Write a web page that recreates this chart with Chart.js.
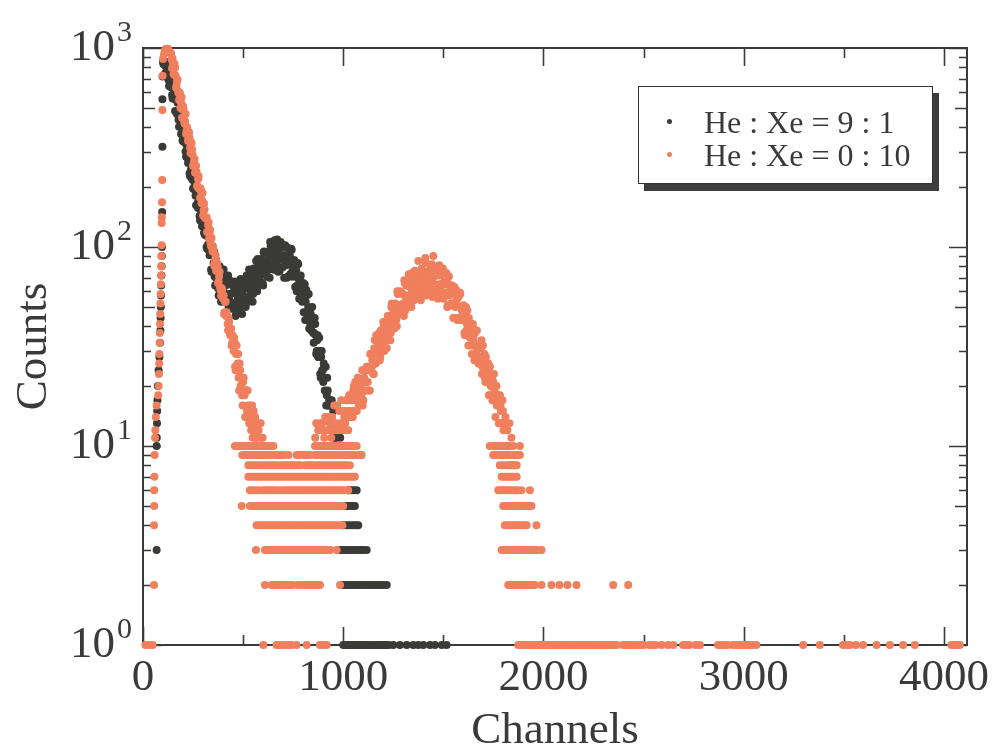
<!DOCTYPE html>
<html>
<head>
<meta charset="utf-8">
<script src="https://cdn.jsdelivr.net/npm/chart.js@4.4.1/dist/chart.umd.min.js"></script>
<style>
  body { margin: 0; background: #fff; }
  #wrap { position: relative; width: 998px; height: 751px; }
  #legend {
    position: absolute; left: 638px; top: 86px; width: 295px; height: 98px;
    box-sizing: border-box; border: 1.5px solid #333; background: #fff;
    box-shadow: 6px 7px 0 #3d3d3d; padding-top: 19px;
    font: 32px "Liberation Serif", serif; color: #3a3a3a;
  }
  #legend .row { position: relative; height: 33px; line-height: 33px; padding-left: 65px; white-space: nowrap; }
  #legend .dot { position: absolute; left: 28px; top: 13px; width: 5px; height: 5px; border-radius: 50%; }
</style>
</head>
<body>
<div id="wrap">
  <canvas id="chart" width="998" height="751"></canvas>
  <div id="legend"></div>
</div>
<script>
const seriesNames = ['He : Xe = 9 : 1', 'He : Xe = 0 : 10'];
const seriesColors = ['rgb(58,58,54)', 'rgb(239,127,93)'];
const channelTicks = [0, 1000, 2000, 3000, 4000];
const countDecades = [0, 1, 2, 3];
const bandStep = 5;

// He:Xe = 9:1 -- rising edge (channel, counts)
const mixEdgeChannels = [68, 68, 69, 70, 71, 72, 74, 78, 82, 85, 87, 88, 89, 90, 91, 92, 93, 94, 95, 96, 97, 97, 98];
const mixEdgeCounts = [3, 10, 11, 13, 15, 17, 20, 24, 28, 33, 38, 44, 50, 57, 64, 72, 80, 90, 100, 150, 319, 552, 720];
// He:Xe = 9:1 -- counts every 5 channels from channel 100
const mixBandStart = 100;
const mixBandCounts = [
  850, 860, 744, 803, 730, 803, 644, 700, 635, 580, 628, 570, 482, 550, 466, 466, 402, 435, 370, 413,
  346, 337, 342, 284, 299, 264, 286, 227, 246, 219, 197, 213, 193, 162, 184, 157, 158, 136, 148, 127,
  142, 118, 115, 118, 98, 103,
  96, 106, 77, 91, 75, 95, 64, 81, 70, 62, 78, 70, 53, 76, 60, 66, 53, 68, 54, 72, 55,
  58, 66, 49, 59, 52, 67, 46, 61, 55, 50, 64, 59, 46, 68, 56, 62, 52, 68, 56, 77, 61,
  65, 76, 58, 72, 64, 85, 60, 80, 72, 67, 87, 81, 64, 95, 77, 86, 71, 94, 77, 106, 83,
  88, 102, 77, 95, 83, 109, 75, 99, 87, 79, 101, 91, 70, 102, 81, 88, 71, 92, 73, 98, 75,
  77, 86, 63, 76, 64, 82, 55, 70, 60, 53, 66, 58, 43, 61, 47, 50, 39, 49, 38, 50, 37,
  37, 41, 29, 34, 28, 35, 23, 28, 24, 21, 25, 22, 16, 22, 16, 17, 13, 16, 12, 15, 11,
  11, 11, 10, 12, 10, 11
];
// He:Xe = 9:1 -- the in-between channels (every 5 from 102.5)
const mixBandBStart = 102.5;
const mixBandBCounts = [
  829, 858, 736, 850, 764, 690, 746, 647, 661, 558, 637, 556, 562, 474, 530, 436, 442,
  402, 406, 342, 387, 339, 302, 325, 280, 282, 235, 267, 233, 233, 196, 221, 181, 183,
  166, 168, 143, 160, 141, 127, 136, 117, 118, 100, 113, 99,
  91, 100, 75, 101, 83, 71, 87, 69, 76, 57, 80, 66, 73, 57, 77, 57, 64,
  58, 65, 50, 68, 58, 51, 64, 52, 59, 45, 65, 55, 62, 49, 69, 52, 60,
  56, 64, 50, 72, 62, 55, 71, 60, 68, 53, 78, 67, 76, 62, 87, 67, 77,
  72, 83, 66, 94, 82, 73, 94, 78, 89, 70, 101, 86, 97, 77, 108, 82, 93,
  86, 98, 76, 106, 91, 79, 100, 82, 91, 70, 99, 82, 91, 71, 97, 71, 79,
  71, 79, 60, 83, 69, 59, 72, 58, 63, 47, 65, 53, 57, 44, 58, 42, 46,
  40, 44, 33, 44, 36, 30, 36, 28, 30, 22, 30, 24, 26, 19, 25, 18, 19,
  16, 17, 13, 17, 13
];
// He:Xe = 9:1 -- channels holding 1, 2, 3 ... counts
const mixLowLevels = [
  [1000, 1012, 1024, 1036, 1048, 1060, 1072, 1084, 1096, 1108, 1120, 1132, 1144, 1156, 1168, 1180, 1192, 1204, 1216, 1228, 1250, 1283, 1317, 1350, 1375, 1400, 1433, 1458, 1492, 1516],
  [992, 1005, 1018, 1031, 1044, 1057, 1070, 1083, 1096, 1109, 1122, 1135, 1148, 1161, 1174, 1187, 1200, 1217],
  [984, 997, 1010, 1023, 1036, 1049, 1062, 1075, 1088, 1101, 1117],
  [1000, 1013, 1026, 1039, 1052, 1065, 1075],
  [1000, 1012, 1024, 1036, 1048, 1058],
  [1025, 1038, 1052, 1067]
];

// He:Xe = 0:10 -- rising edge (channel, counts)
const xeEdgeChannels = [55, 55, 56, 56, 57, 58, 60, 62, 64, 68, 76, 78, 80, 81, 82, 83, 84, 85, 86, 87, 88, 89, 90, 91, 92, 93, 93, 94, 95, 96, 97, 98, 100];
const xeEdgeCounts = [2, 4, 5, 6, 7, 9, 11, 12, 14, 16, 18, 20, 23, 26, 29, 33, 37, 41, 46, 52, 58, 65, 72, 80, 90, 102, 132, 141, 168, 217, 488, 726, 880];
// He:Xe = 0:10 -- counts every 5 channels, falling tail from channel 105
const xeBand1Start = 105;
const xeBand1Counts = [
  930, 975, 990, 985, 990, 965,
  947, 940, 791, 830, 733, 796, 631, 679, 607, 548, 589, 532, 446, 510, 433, 430, 370, 400, 341, 377,
  315, 306, 310, 255, 268, 236, 256, 203, 219, 196, 177, 190, 172, 144, 165, 140, 139, 119, 129, 110,
  122, 101, 99, 100, 82, 86, 76, 83, 66, 71, 63, 57, 61, 55, 46, 53, 45, 45, 38, 42, 36, 39, 33,
  32, 35, 25, 29, 24, 29, 19, 24, 20, 18, 21, 19, 14, 19, 15, 16, 13, 16, 12, 16,
  12, 12, 14, 10, 12, 10, 13, 9, 11, 10, 9
];
// He:Xe = 0:10 -- in-between channels of the falling tail (every 5 from 142.5)
const xeBand1BStart = 142.5;
const xeBand1BCounts = [
  876, 885, 742, 833, 728, 648, 692, 594, 598, 500, 566, 491, 494, 417, 466, 382, 385,
  350, 354, 297, 334, 291, 259, 277, 237, 239, 200, 227, 197, 197, 166, 187, 153, 154,
  140, 141, 119, 133, 117, 104, 111, 95, 96, 80, 91, 79, 79, 67, 75, 61, 62,
  56, 57, 47, 53, 47, 41, 44, 38, 38, 32, 36,
  30, 33, 24, 32, 26, 22, 26, 20, 22, 16, 22, 18, 19, 14, 19, 14, 15,
  13, 15, 11, 15, 13, 11, 13, 11, 12, 9, 13, 10, 11
];
// He:Xe = 0:10 -- counts every 5 channels, photopeak from channel 860
const xeBand2Start = 860;
const xeBand2Counts = [
  11, 13, 10, 12, 10, 13, 10, 13, 12, 11, 14, 12, 10, 14, 12, 13, 11, 14, 12, 16, 12,
  13, 16, 12, 15, 13, 17, 12, 15, 14, 13, 17, 15, 12, 18, 15, 17, 14, 19, 15, 21, 17,
  18, 21, 16, 20, 18, 24, 17, 22, 21, 19, 25, 24, 19, 29, 24, 27, 23, 31, 26, 36, 29,
  31, 37, 28, 35, 31, 42, 30, 40, 37, 34, 45, 42, 34, 50, 41, 47, 39, 52, 43, 60, 48,
  51, 60, 46, 58, 52, 68, 48, 64, 57, 53, 69, 63, 50, 74, 60, 67, 55, 72, 59, 85, 63,
  67, 77, 58, 72, 63, 88, 57, 75, 67, 61, 78, 72, 56, 90, 65, 72, 58, 75, 60, 81, 63,
  65, 74, 55, 67, 57, 74, 50, 65, 57, 51, 64, 58, 44, 63, 50, 54, 43, 56, 44, 58, 44,
  45, 51, 37, 45, 38, 48, 32, 41, 36, 32, 40, 35, 27, 38, 30, 32, 26, 32, 26, 34, 25,
  26, 29, 21, 25, 21, 26, 18, 23, 20, 17, 21, 19, 14, 20, 16, 17, 13, 16, 13, 17, 12,
  13, 14, 10, 12, 10, 13, 8, 11, 9, 8
];
// He:Xe = 0:10 -- in-between channels of the photopeak (every 5 from 1002.5)
const xeBand2BStart = 1002.5;
const xeBand2BCounts = [
  13, 15, 12, 17, 15, 14, 18, 15, 17, 14, 20, 17, 19, 15, 22, 16, 19,
  18, 21, 16, 24, 21, 19, 25, 21, 24, 19, 29, 25, 29, 23, 34, 26, 30,
  29, 33, 27, 38, 34, 30, 40, 33, 39, 31, 45, 39, 45, 37, 52, 40, 46,
  44, 51, 40, 58, 51, 46, 59, 50, 58, 45, 66, 56, 64, 52, 73, 55, 63,
  59, 68, 54, 76, 65, 58, 74, 61, 70, 54, 78, 66, 75, 59, 83, 62, 71,
  66, 75, 58, 82, 70, 62, 78, 64, 72, 55, 78, 65, 72, 57, 78, 58, 65,
  59, 67, 51, 71, 60, 52, 64, 52, 58, 44, 61, 51, 56, 44, 59, 43, 48,
  43, 48, 36, 50, 41, 36, 44, 35, 39, 29, 41, 33, 37, 28, 38, 28, 31,
  28, 31, 23, 32, 26, 22, 28, 22, 24, 18, 25, 20, 22, 17, 23, 17, 18,
  16, 18, 13, 18, 15, 13, 15
];
// He:Xe = 0:10 -- channels holding 1, 2, 3 ... 10 counts
const xeLowLevels = [
  [12, 30, 48, 601, 667, 681, 694, 712, 728, 742, 767, 817, 884, 900, 917,
   1874, 1886, 1898, 1910, 1922, 1934, 1946, 1958, 1970, 1982, 1994, 2006, 2018, 2030, 2042, 2054, 2066, 2078,
   2090, 2102, 2114, 2126, 2138, 2150, 2162, 2174, 2186, 2198, 2210, 2222, 2234, 2246, 2258, 2270, 2282, 2294,
   2306, 2318, 2330, 2342, 2354, 2365, 2398, 2412, 2426, 2440, 2455, 2470, 2486, 2500, 2530, 2545, 2560, 2590,
   2622, 2648, 2697, 2712, 2728, 2760, 2781, 2872, 2888, 2904, 2920, 2947, 2964, 2980, 2997, 3012, 3028, 3045, 3063,
   3297, 3380, 3496, 3512, 3530, 3560, 3596, 3663, 3730, 3796, 3854, 4037, 4050, 4065, 4079],
  [609, 642, 655, 668, 681, 694, 707, 720, 733, 746, 772, 785, 798, 811, 824, 837, 850, 863, 876, 884, 984,
   1824, 1836, 1848, 1860, 1872, 1884, 1896, 1908, 1920, 1932, 1944, 1956, 1990, 2040, 2080, 2120, 2165, 2348, 2423],
  [564, 609, 622, 635, 648, 661, 674, 687, 700, 713, 726, 739, 752, 765, 778, 791, 804, 817, 830, 843, 856, 869,
   882, 895, 908, 921, 934, 967, 1791, 1803, 1815, 1827, 1839, 1851, 1863, 1875, 1887, 1899, 1911, 1923, 1935,
   1947, 1959, 1971, 1990],
  [567, 580, 593, 606, 619, 632, 645, 658, 671, 684, 697, 710, 723, 736, 749, 762, 775, 788, 801, 814, 827, 840,
   853, 866, 879, 892, 905, 918, 931, 944, 957, 970, 983, 996, 1807, 1819, 1831, 1843, 1855, 1867, 1879, 1891,
   1903, 1916, 1965],
  [493, 534, 547, 560, 573, 586, 599, 612, 625, 638, 651, 664, 677, 690, 703, 716, 729, 742, 755, 768, 781, 794,
   807, 820, 833, 846, 859, 872, 885, 898, 911, 924, 937, 950, 963, 976, 989, 1000, 1799, 1811, 1823, 1835, 1847,
   1859, 1871, 1883, 1895, 1907, 1919, 1931, 1940],
  [534, 547, 560, 576, 601, 614, 627, 640, 653, 666, 684, 701, 714, 727, 740, 753, 766, 779, 792, 805, 818, 831,
   844, 857, 870, 883, 896, 909, 922, 934, 942, 955, 968, 981, 994, 1007, 1025, 1774, 1786, 1798, 1810, 1822,
   1834, 1846, 1858, 1870, 1890, 1932],
  [526, 539, 552, 565, 578, 591, 604, 617, 630, 643, 656, 669, 682, 695, 708, 721, 734, 747, 760, 773, 786, 799,
   812, 825, 838, 851, 864, 877, 890, 903, 916, 929, 942, 955, 968, 981, 994, 1007, 1020, 1033, 1046, 1058, 1791,
   1803, 1815, 1827, 1839, 1851, 1866],
  [526, 539, 552, 565, 578, 591, 604, 617, 630, 643, 656, 667, 684, 697, 710, 723, 736, 749, 762, 775, 784, 809,
   822, 835, 848, 861, 874, 887, 900, 913, 926, 939, 952, 965, 978, 991, 1004, 1017, 1033, 1782, 1794, 1806,
   1818, 1830, 1842, 1854, 1866],
  [496, 509, 522, 535, 548, 561, 574, 587, 600, 613, 626, 638, 654, 667, 680, 693, 706, 726, 767, 780, 793, 806,
   820, 834, 859, 872, 885, 898, 911, 924, 937, 950, 963, 976, 989, 1002, 1015, 1028, 1041, 1054, 1067, 1080,
   1092, 1749, 1761, 1773, 1785, 1797, 1809, 1821, 1833, 1845, 1857, 1869, 1882],
  [459, 472, 485, 498, 511, 524, 537, 550, 563, 576, 589, 602, 615, 628, 640, 651, 859, 872, 885, 898, 911, 924,
   937, 950, 963, 976, 989, 1002, 1015, 1028, 1041, 1054, 1067, 1732, 1744, 1756, 1768, 1780, 1792, 1804, 1816,
   1828, 1849, 1882]
];

const INK = '#3a3a3a';
const SERIF = '"Liberation Serif", "Times New Roman", serif';
const DOT = 4;

function buildPoints(edgeCh, edgeCounts, bands, lowLevels) {
  const pts = [];
  edgeCh.forEach((c, i) => pts.push({ x: c, y: edgeCounts[i] }));
  bands.forEach(([start, counts]) => {
    counts.forEach((v, i) => pts.push({ x: start + i * bandStep, y: v }));
  });
  lowLevels.forEach((chs, k) => chs.forEach(c => pts.push({ x: c, y: k + 1 })));
  return pts;
}

const mixPoints = buildPoints(mixEdgeChannels, mixEdgeCounts,
  [[mixBandStart, mixBandCounts], [mixBandBStart, mixBandBCounts]], mixLowLevels);
const xePoints = buildPoints(xeEdgeChannels, xeEdgeCounts,
  [[xeBand1Start, xeBand1Counts], [xeBand1BStart, xeBand1BCounts],
   [xeBand2Start, xeBand2Counts], [xeBand2BStart, xeBand2BCounts]], xeLowLevels);

// frame with inward ticks on all four sides, and 10^n labels
const axesFrame = {
  id: 'axesFrame',
  beforeDatasetsDraw(chart) {
    const { ctx, chartArea: a, scales: { x, y } } = chart;
    ctx.save();
    ctx.strokeStyle = INK;
    ctx.lineWidth = 2;
    ctx.strokeRect(a.left, a.top, a.right - a.left, a.bottom - a.top);
    ctx.lineWidth = 1.6;
    ctx.beginPath();
    for (let v = 0; v <= 4000; v += 500) {
      const px = Math.round(x.getPixelForValue(v)) + 0.5;
      const len = v % 1000 === 0 ? 18 : 10;
      ctx.moveTo(px, a.bottom); ctx.lineTo(px, a.bottom - len);
      ctx.moveTo(px, a.top); ctx.lineTo(px, a.top + len);
    }
    countDecades.forEach(d => {
      for (let k = 1; k <= 9; k++) {
        if (d === 3 && k > 1) break;
        const py = Math.round(y.getPixelForValue(k * Math.pow(10, d))) + 0.5;
        const len = k === 1 ? 18 : (k === 5 ? 12 : 8);
        ctx.moveTo(a.left, py); ctx.lineTo(a.left + len, py);
        ctx.moveTo(a.right, py); ctx.lineTo(a.right - len, py);
      }
    });
    ctx.stroke();
    ctx.restore();
  },
  afterDraw(chart) {
    const { ctx, scales: { y } } = chart;
    ctx.save();
    ctx.fillStyle = INK;
    ctx.textBaseline = 'middle';
    countDecades.forEach(d => {
      const py = y.getPixelForValue(Math.pow(10, d));
      ctx.font = '45px ' + SERIF;
      ctx.textAlign = 'right';
      ctx.fillText('10', 115, py);
      ctx.font = '30px ' + SERIF;
      ctx.textAlign = 'left';
      ctx.fillText(String(d), 117, py - 15);
    });
    ctx.restore();
  }
};

new Chart(document.getElementById('chart').getContext('2d'), {
  type: 'scatter',
  data: {
    datasets: [
      { label: seriesNames[0], data: mixPoints, backgroundColor: seriesColors[0], borderColor: seriesColors[0],
        order: 1, clip: false },
      { label: seriesNames[1], data: xePoints, backgroundColor: seriesColors[1], borderColor: seriesColors[1],
        order: 0, clip: false }
    ]
  },
  options: {
    responsive: false,
    animation: false,
    devicePixelRatio: 1,
    elements: { point: { radius: DOT, hoverRadius: DOT, borderWidth: 0, pointStyle: 'circle' } },
    layout: { padding: { top: 48, right: 31, left: 0, bottom: 0 } },
    plugins: { legend: { display: false }, tooltip: { enabled: false } },
    scales: {
      x: {
        type: 'linear', min: 0, max: 4115,
        grid: { display: false }, border: { display: false },
        afterBuildTicks: s => { s.ticks = channelTicks.map(v => ({ value: v })); },
        ticks: { color: INK, font: { family: SERIF, size: 45, lineHeight: 1 }, padding: 3, maxRotation: 0,
                 callback: v => String(v) },
        title: { display: true, text: 'Channels', color: INK,
                 font: { family: SERIF, size: 45, lineHeight: 0.8 }, padding: { top: 0, bottom: 2 } },
        afterFit: s => { s.height = 106; }
      },
      y: {
        type: 'logarithmic', min: 1, max: 1000,
        grid: { display: false }, border: { display: false },
        ticks: { display: false },
        title: { display: true, text: 'Counts', color: INK,
                 font: { family: SERIF, size: 45, lineHeight: 0.8 }, padding: { top: 16, bottom: 0 } },
        afterFit: s => { s.width = 143; }
      }
    }
  },
  plugins: [axesFrame]
});

// legend box with drop shadow
const legend = document.getElementById('legend');
seriesNames.forEach((name, i) => {
  const row = document.createElement('div');
  row.className = 'row';
  const dot = document.createElement('span');
  dot.className = 'dot';
  dot.style.background = seriesColors[i];
  row.appendChild(dot);
  row.appendChild(document.createTextNode(name));
  legend.appendChild(row);
});
</script>
</body>
</html>
